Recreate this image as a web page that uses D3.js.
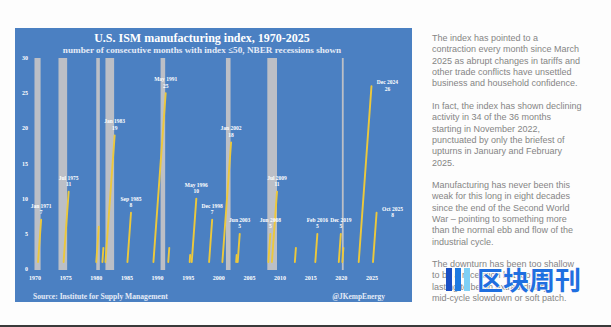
<!DOCTYPE html>
<html><head><meta charset="utf-8">
<script src="https://cdn.jsdelivr.net/npm/d3@7/dist/d3.min.js"></script>
<style>
html,body{margin:0;padding:0;background:#fff;}
svg{display:block;}
</style></head>
<body>
<script>
// ---- data ----
const recessionStart = ["1969-12","1973-11","1980-01","1981-07","1990-07","2001-03","2007-12","2020-02"];
const recessionEnd   = ["1970-11","1975-03","1980-07","1982-11","1991-03","2001-11","2009-06","2020-04"];

// runs of consecutive months with index <= 50 (first month, last month, count at last month)
const runStart = ["1970-07","1974-09","1980-01","1981-01","1981-07","1985-02","1989-05","1991-10","1995-04","1995-08","1998-06","2000-08","2002-11","2003-02","2008-02","2008-09","2012-06","2015-10","2019-08","2020-03","2022-11","2025-03"];
const runEnd   = ["1971-01","1975-07","1980-06","1981-03","1983-01","1985-09","1991-05","1991-12","1995-05","1996-05","1998-12","2002-01","2002-12","2003-06","2008-06","2009-07","2012-08","2016-02","2019-12","2020-05","2024-12","2025-10"];
const runPeak  = [7, 11, 6, 3, 19, 8, 25, 3, 2, 10, 7, 18, 2, 5, 5, 11, 3, 5, 5, 3, 26, 8];
const runLabel = ["Jan 1971","Jul 1975","","","Jan 1983","Sep 1985","May 1991","","","May 1996","Dec 1998","Jan 2002","","Jun 2003","Jun 2008","Jul 2009","","Feb 2016","Dec 2019","","Dec 2024","Oct 2025"];

const yTicks = [0,5,10,15,20,25,30];
const xTickYears = [1970,1975,1980,1985,1990,1995,2000,2005,2010,2015,2020,2025];

const titleText = "U.S. ISM manufacturing index, 1970-2025";
const subtitleText = "number of consecutive months with index \u226450, NBER recessions shown";
const sourceText = "Source: Institute for Supply Management";
const creditText = "@JKempEnergy";

const paragraphs = [
 ["The index has pointed to a","contraction every month since March","2025 as abrupt changes in tariffs and","other trade conflicts have unsettled","business and household confidence."],
 ["In fact, the index has shown declining","activity in 34 of the 36 months","starting in November 2022,","punctuated by only the briefest of","upturns in January and February","2025."],
 ["Manufacturing has never been this","weak for this long in eight decades","since the end of the Second World","War \u2013 pointing to something more","than the normal ebb and flow of the","industrial cycle."],
 ["The downturn has been too shallow","to be a recession but too long-","lasting to be an extraordinary","mid-cycle slowdown or soft patch."]
];

// ---- drawing ----
const W = 611, H = 327;
const svg = d3.select("body").append("svg").attr("width", W).attr("height", H);
const serif = "'Liberation Serif','DejaVu Serif',serif";
const sans = "'Liberation Sans',Arial,sans-serif";

svg.append("rect").attr("width", W).attr("height", H).attr("fill", "#fdfdfd");
// panel
svg.append("rect").attr("x", 15).attr("y", 28).attr("width", 397).attr("height", 274).attr("fill", "#4b80c2");

const parse = d3.timeParse("%Y-%m");
const x = d3.scaleTime().domain([new Date(1970,0,1), new Date(2025,0,1)]).range([35, 372]);
const y = d3.scaleLinear().domain([0,30]).range([269, 58]);

// recession bars
const recG = svg.append("g");
recessionStart.forEach((s,i) => {
  const x0 = x(parse(s));
  const e = parse(recessionEnd[i]);
  const x1 = x(d3.timeMonth.offset(e,1));
  recG.append("rect").attr("x", x0).attr("y", y(30)).attr("width", Math.max(1.8, x1-x0))
    .attr("height", y(0)-y(30)+1).attr("fill", "#bcbfc6");
});

// runs
const line = d3.line().x(d => x(d.t)).y(d => y(d.v));
const runG = svg.append("g");
runStart.forEach((s,i) => {
  const pts = [{t: parse(s), v: 1}, {t: parse(runEnd[i]), v: runPeak[i]}];
  runG.append("path").attr("d", line(pts)).attr("fill","none")
    .attr("stroke", "#ecc83c").attr("stroke-width", 1.9).attr("stroke-linecap","round");
});

// peak labels
const labG = svg.append("g").attr("font-family", serif).attr("font-weight","bold").attr("font-size", 5.5)
  .attr("fill", "#fff").attr("text-anchor","middle");
runLabel.forEach((lab,i) => {
  if (!lab) return;
  const px = x(parse(runEnd[i])), py = y(runPeak[i]);
  const right = parse(runEnd[i]).getFullYear() >= 2024;
  const lx = right ? px + 16 : px;
  const ly = right ? py - 2 : py - 12;
  labG.append("text").attr("x", lx).attr("y", ly).text(lab);
  labG.append("text").attr("x", lx).attr("y", ly + 6.5).text(runPeak[i]);
});

// axes
const yAxis = svg.append("g").attr("font-family", serif).attr("font-weight","bold").attr("font-size", 6)
  .attr("fill","#fff").attr("text-anchor","end");
yTicks.forEach(v => yAxis.append("text").attr("x", 28).attr("y", y(v)+2).text(v));
const xAxis = svg.append("g").attr("font-family", serif).attr("font-weight","bold").attr("font-size", 6)
  .attr("fill","#fff").attr("text-anchor","middle");
xTickYears.forEach(v => xAxis.append("text").attr("x", x(new Date(v,0,1))).attr("y", 280).text(v));

// titles
svg.append("text").attr("x", 202).attr("y", 42).attr("text-anchor","middle").attr("font-family", serif)
  .attr("font-weight","bold").attr("font-size", 12).attr("fill","#fff").text(titleText);
svg.append("text").attr("x", 202).attr("y", 52.5).attr("text-anchor","middle").attr("font-family", serif)
  .attr("font-weight","bold").attr("font-size", 9.2).attr("fill","#e4ebf7").text(subtitleText);
svg.append("text").attr("x", 33).attr("y", 299).attr("font-family", serif)
  .attr("font-weight","bold").attr("font-size", 7.6).attr("fill","#e4ebf7").text(sourceText);
svg.append("text").attr("x", 385).attr("y", 299).attr("text-anchor","end").attr("font-family", serif)
  .attr("font-weight","bold").attr("font-size", 7.4).attr("fill","#e4ebf7").text(creditText);

// right-hand text
const tg = svg.append("g").attr("font-family", sans).attr("font-size", 9).attr("fill", "#858585");
const paraTop = [38, 106, 185, 264];
paragraphs.forEach((p,pi) => {
  p.forEach((ln,li) => tg.append("text").attr("x", 432).attr("y", paraTop[pi] + 3 + li*11.3).text(ln));
});

// watermark
const wm = svg.append("g");
[["#1a4fc4",446],["#1f7ae0",455],["#7fd0f5",464]].forEach(([c,xx]) => {
  wm.append("rect").attr("x", xx).attr("y", 268).attr("width", 6).attr("height", 23).attr("fill", c);
});
wm.append("text").attr("x", 477).attr("y", 290).attr("font-family", "'Noto Sans CJK SC',sans-serif")
  .attr("font-weight","bold").attr("font-size", 26).attr("fill", "#1f6fe0")
  .attr("stroke","#ffffff").attr("stroke-width",1.2).attr("paint-order","stroke").text("区块周刊");

// bottom dark edge
svg.append("rect").attr("x", 0).attr("y", 325).attr("width", W).attr("height", 2).attr("fill", "#3a3a3a");
</script>
</body></html>
